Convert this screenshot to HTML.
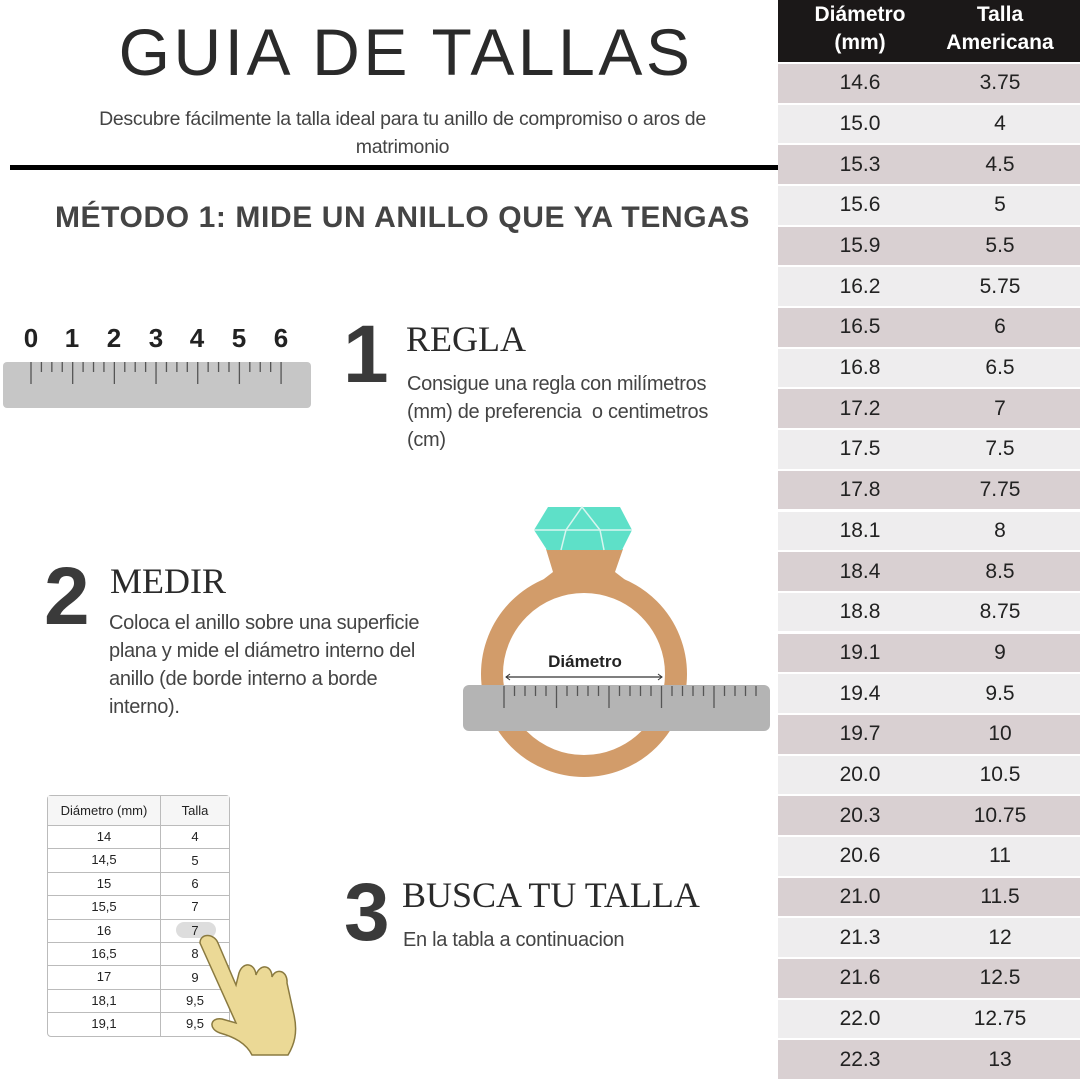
<!DOCTYPE html>
<html><head><meta charset="utf-8"><style>
*{margin:0;padding:0;box-sizing:border-box}
body{width:1080px;height:1080px;background:#fff;position:relative;overflow:hidden;font-family:"Liberation Sans",sans-serif;color:#333}
.a{position:absolute;white-space:nowrap}
.big{font-weight:bold;color:#3a3a3a;font-size:82px;line-height:1}
.serif{font-family:"Liberation Serif",serif;color:#2a2a2a}
.t{font-size:20px;color:#444;line-height:28px;letter-spacing:-0.3px}
#rt .r{position:absolute;left:778px;width:302px;display:flex;font-size:21px;color:#222;align-items:center}
#rt .r div{text-align:center}
.dg{position:absolute;top:323px;font-size:26px;font-weight:bold;color:#222;width:30px;margin-left:-15px;text-align:center}
</style></head><body>
<div class="a" style="left:0;width:812px;text-align:center;top:14px;font-size:66px;color:#2a2a2a;letter-spacing:3.5px">GUIA DE TALLAS</div>
<div class="a" style="left:0;width:805px;text-align:center;top:105px;font-size:19.5px;color:#444;line-height:28px;letter-spacing:-0.3px">Descubre fácilmente la talla ideal para tu anillo de compromiso o aros de<br>matrimonio</div>
<div class="a" style="left:10px;top:165px;width:770px;height:5px;background:#000"></div>
<div class="a" style="left:0;width:805px;text-align:center;top:201px;font-size:30px;font-weight:bold;color:#444;letter-spacing:0.6px">MÉTODO 1: MIDE UN ANILLO QUE YA TENGAS</div>

<!-- ruler 1 -->
<div class="dg" style="left:31px">0</div><div class="dg" style="left:72px">1</div><div class="dg" style="left:114px">2</div><div class="dg" style="left:156px">3</div><div class="dg" style="left:197px">4</div><div class="dg" style="left:239px">5</div><div class="dg" style="left:281px">6</div>
<div class="a" style="left:3px;top:362px;width:308px;height:46px;background:#c6c6c6;border-radius:4px"></div>
<svg class="a" style="left:0;top:360px" width="320" height="30" id="r1"></svg>

<div class="a big" style="left:343px;top:314px">1</div>
<div class="a serif" style="left:406px;top:318px;font-size:36px">REGLA</div>
<div class="a t" style="left:407px;top:370px">Consigue una regla con milímetros<br>(mm) de preferencia&nbsp; o centimetros<br>(cm)</div>

<div class="a big" style="left:44px;top:556px">2</div>
<div class="a serif" style="left:110px;top:560px;font-size:36px">MEDIR</div>
<div class="a t" style="left:109px;top:609px">Coloca el anillo sobre una superficie<br>plana y mide el diámetro interno del<br>anillo (de borde interno a borde<br>interno).</div>

<!-- ring -->
<svg class="a" style="left:460px;top:500px" width="320" height="290">
<polygon points="86,49 163,49 155,72 168,82 80,82 93,72" fill="#d29c6a"/>
<circle cx="124" cy="174" r="92" fill="none" stroke="#d29c6a" stroke-width="22"/>
<polygon points="88,7 160,7 172,30 162,50 87,50 74,30" fill="#5ee0c8"/>
<line x1="74" y1="30" x2="172" y2="30" stroke="#d8f5ef" stroke-width="1.5"/>
<polyline points="101,50 106,30 122,7 140,30 144,50" stroke="#d8f5ef" stroke-width="1.5" fill="none"/>
<rect x="3" y="185" width="307" height="46" rx="6" fill="#b4b4b4"/>
<g id="r2" stroke="#555" stroke-width="1.3"></g>
<line x1="46" y1="177" x2="202" y2="177" stroke="#333" stroke-width="1.3"/>
<polyline points="50,174 46,177 50,180" stroke="#333" fill="none"/><polyline points="198,174 202,177 198,180" stroke="#333" fill="none"/>
<text x="125" y="167" text-anchor="middle" font-family="Liberation Sans" font-weight="bold" font-size="17" fill="#222">Diámetro</text>
</svg>

<!-- small table -->
<div class="a" style="left:47px;top:795px;width:183px;height:242px;border:1px solid #bbb;border-radius:4px;font-size:13px;color:#222">
<div class="a" style="left:128px;top:126px;width:40px;height:16px;border-radius:8px;background:#ddd"></div>
<div id="st" style="position:relative"></div>
</div>
<svg class="a" style="left:190px;top:915px" width="120" height="145">
<path d="M10,28 C10,18 24,18 28,28 L46,70 L49,58 C53,46 65,48 66,60 C70,48 82,50 82,62 C86,52 98,56 97,68 L104,100 C108,118 104,130 98,140 L62,140 C56,128 44,122 30,118 C18,114 20,102 32,104 L46,108 Z" fill="#ebd996" stroke="#8a7a40" stroke-width="1.5"/>
</svg>

<div class="a big" style="left:344px;top:872px">3</div>
<div class="a serif" style="left:402px;top:874px;font-size:36px">BUSCA TU TALLA</div>
<div class="a t" style="left:403px;top:926px">En la tabla a continuacion</div>

<!-- right table -->
<div class="a" style="left:778px;top:0;width:302px;height:62px;background:#1b1818"></div>
<div class="a" style="left:778px;top:1px;width:164px;text-align:center;color:#fff;font-weight:bold;font-size:21px;line-height:28px">Diámetro<br>(mm)</div>
<div class="a" style="left:920px;top:1px;width:160px;text-align:center;color:#fff;font-weight:bold;font-size:21px;line-height:28px">Talla<br>Americana</div>
<div id="rt"></div>

<script>
var d=[["14.6","3.75"],["15.0","4"],["15.3","4.5"],["15.6","5"],["15.9","5.5"],["16.2","5.75"],["16.5","6"],["16.8","6.5"],["17.2","7"],["17.5","7.5"],["17.8","7.75"],["18.1","8"],["18.4","8.5"],["18.8","8.75"],["19.1","9"],["19.4","9.5"],["19.7","10"],["20.0","10.5"],["20.3","10.75"],["20.6","11"],["21.0","11.5"],["21.3","12"],["21.6","12.5"],["22.0","12.75"],["22.3","13"]];
var h="",rh=(1080-63)/25;
d.forEach(function(r,i){var t=63+i*rh;h+='<div class="r" style="top:'+(t+1).toFixed(1)+'px;height:'+(rh-2).toFixed(1)+'px;background:'+(i%2?'#eeedee':'#d9d0d2')+'"><div style="width:164px">'+r[0]+'</div><div style="width:116px">'+r[1]+'</div></div>';});
document.getElementById('rt').innerHTML=h;
var s=[["Diámetro (mm)","Talla"],["14","4"],["14,5","5"],["15","6"],["15,5","7"],["16","7"],["16,5","8"],["17","9"],["18,1","9,5"],["19,1","9,5"]];
h="";s.forEach(function(r,i){h+='<div style="display:flex;height:'+(i?23.4:29)+'px;align-items:center;'+(i?'border-top:1px solid #bbb':'background:#f6f6f6')+'"><div style="width:113px;text-align:center;border-right:1px solid #bbb;height:100%;line-height:'+(i?22:29)+'px">'+r[0]+'</div><div style="flex:1;text-align:center;line-height:'+(i?22:29)+'px">'+r[1]+'</div></div>'});
document.getElementById('st').innerHTML=h;
var g="";for(var k=0;k<=24;k++){var x=31+k*10.42;var L=k%4==0?22:10;g+='<line x1="'+x+'" y1="2" x2="'+x+'" y2="'+(2+L)+'" stroke="#555" stroke-width="1.3"/>';}
document.getElementById('r1').innerHTML=g;
g="";for(var k=0;k<=30;k++){var x=44+k*10.5;if(x>305)break;var L=k%5==0?22:10;g+='<line x1="'+x+'" y1="186" x2="'+x+'" y2="'+(186+L)+'"/>';}
document.getElementById('r2').innerHTML=g;
</script>
</body></html>
